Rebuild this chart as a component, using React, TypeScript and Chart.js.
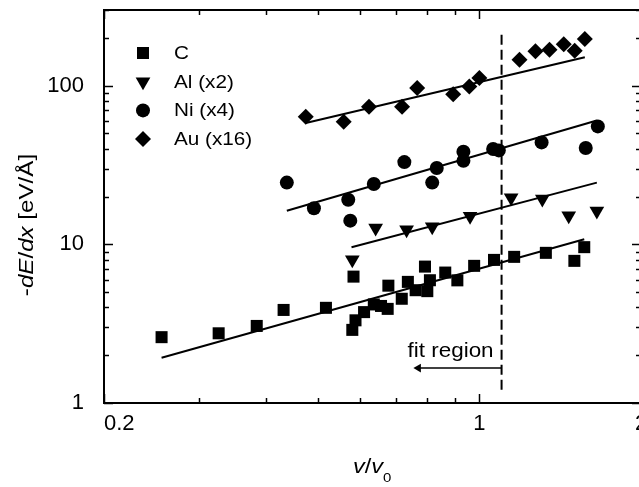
import React, { useEffect, useRef } from 'react';
import { Chart, registerables } from 'chart.js';

Chart.register(...registerables);

const FONT = '"Liberation Sans", Arial, Helvetica, sans-serif';

// ---- data (v/v0 , -dE/dx) ----
const seriesLabels = ['C', 'Al (x2)', 'Ni (x4)', 'Au (x16)'];

const cVel = [0.256, 0.327, 0.385, 0.432, 0.518, 0.58, 0.583, 0.588, 0.61, 0.636, 0.656, 0.675, 0.677, 0.717, 0.736, 0.761, 0.792, 0.8, 0.809, 0.864, 0.91, 0.978, 1.065, 1.161, 1.33, 1.503, 1.568];
const cLoss = [2.6, 2.75, 3.06, 3.86, 3.98, 2.89, 6.26, 3.32, 3.74, 4.18, 4.09, 3.92, 5.49, 4.54, 5.8, 5.14, 7.24, 5.07, 5.94, 6.64, 5.93, 7.32, 7.98, 8.34, 8.84, 7.87, 9.6];

const alVel = [0.58, 0.641, 0.732, 0.817, 0.961, 1.146, 1.31, 1.467, 1.655];
const alLoss = [8.0, 12.7, 12.35, 12.9, 15.06, 19.65, 19.29, 15.17, 16.2];

const niVel = [0.438, 0.492, 0.57, 0.575, 0.636, 0.725, 0.817, 0.833, 0.934, 0.934, 1.061, 1.087, 1.306, 1.578, 1.662];
const niLoss = [24.5, 16.9, 19.1, 14.1, 24.0, 33.0, 24.5, 30.3, 38.3, 33.6, 39.9, 39.1, 43.9, 40.5, 55.4];

const auVel = [0.475, 0.559, 0.623, 0.718, 0.766, 0.894, 0.958, 1.0, 1.188, 1.272, 1.351, 1.436, 1.505, 1.572];
const auLoss = [63.7, 59.3, 73.7, 73.7, 96.7, 88.4, 99.0, 111.9, 145.9, 165.1, 168.7, 182.7, 166.3, 197.0];

// power-law fit lines (end points)
const cFitVel = [0.256, 1.568];
const cFitLoss = [1.93, 10.78];
const alFitVel = [0.578, 1.655];
const alFitLoss = [9.6, 24.5];
const niFitVel = [0.438, 1.655];
const niFitLoss = [16.3, 60.4];
const auFitVel = [0.475, 1.572];
const auFitLoss = [58.2, 150.9];

// fit-region marker
const fitLimitVel = [1.1, 1.1];
const fitLimitLoss = [1.21, 225];
const arrowVel = [1.1, 0.77];
const arrowLoss = [1.66, 1.66];

// axes
const xTickValues = [0.2, 0.3, 0.4, 0.5, 0.6, 0.7, 0.8, 0.9, 1, 2];
const xTickLabels: [number, string][] = [[0.2, '     0.2'], [1, '1'], [2, '2']];
const yTickValues = [1, 2, 3, 4, 5, 6, 7, 8, 9, 10, 20, 30, 40, 50, 60, 70, 80, 90, 100, 200, 300];
const yTickLabels: [number, string][] = [[1, '1'], [10, '10'], [100, '100']];

const findLabel = (list: [number, string][], v: number) => {
  const hit = list.find(([k]) => Math.abs(v - k) / k < 1e-6);
  return hit ? hit[1] : null;
};

const pts = (xs: number[], ys: number[]) => xs.map((x, i) => ({ x, y: ys[i] }));

const markerSet = (label: string, xs: number[], ys: number[], style: string, r: number, rot = 0) => ({
  label,
  data: pts(xs, ys),
  showLine: false,
  pointStyle: style,
  pointRadius: r,
  pointHoverRadius: r,
  pointRotation: rot,
  pointBackgroundColor: '#000',
  pointBorderColor: '#000',
  pointBorderWidth: 0,
  backgroundColor: '#000',
  borderColor: '#000',
  isMarker: true,
});

const lineSet = (xs: number[], ys: number[], extra: any = {}) => ({
  label: '',
  data: pts(xs, ys),
  showLine: true,
  pointRadius: 0,
  borderColor: '#000',
  borderWidth: 2,
  backgroundColor: '#000',
  fill: false,
  tension: 0,
  ...extra,
});

type Part = { t: string; it?: boolean; size?: number; dy?: number };

function drawParts(ctx: CanvasRenderingContext2D, parts: Part[], x: number, y: number, size: number, sx: number, align: 'left' | 'center' | 'right') {
  const fontOf = (p: Part) => `${p.it ? 'italic ' : ''}${p.size ?? size}px ${FONT}`;
  const widths = parts.map((p) => {
    ctx.font = fontOf(p);
    return ctx.measureText(p.t).width * sx;
  });
  const total = widths.reduce((a, b) => a + b, 0);
  let cx = align === 'left' ? x : align === 'center' ? x - total / 2 : x - total;
  parts.forEach((p, i) => {
    ctx.save();
    ctx.font = fontOf(p);
    ctx.translate(cx, y + (p.dy ?? 0));
    ctx.scale(sx, 1);
    ctx.textAlign = 'left';
    ctx.fillText(p.t, 0, 0);
    ctx.restore();
    cx += widths[i];
  });
}

function drawMarker(ctx: CanvasRenderingContext2D, style: string, x: number, y: number, r: number, rotDeg: number) {
  ctx.beginPath();
  if (style === 'circle') {
    ctx.arc(x, y, r, 0, Math.PI * 2);
  } else if (style === 'rect') {
    const s = r * Math.SQRT1_2;
    ctx.rect(x - s, y - s, 2 * s, 2 * s);
  } else if (style === 'rectRot') {
    ctx.moveTo(x, y - r);
    ctx.lineTo(x + r, y);
    ctx.lineTo(x, y + r);
    ctx.lineTo(x - r, y);
    ctx.closePath();
  } else if (style === 'triangle') {
    let rad = (rotDeg * Math.PI) / 180;
    for (let k = 0; k < 3; k++) {
      const px = x + Math.sin(rad) * r;
      const py = y - Math.cos(rad) * r;
      if (k === 0) ctx.moveTo(px, py);
      else ctx.lineTo(px, py);
      rad += (2 * Math.PI) / 3;
    }
    ctx.closePath();
  }
  ctx.fill();
}

const decorPlugin = {
  id: 'decor',
  afterDatasetsDraw(chart: any) {
    const { ctx, chartArea: a, scales } = chart;
    const xs = scales.x;
    const ys = scales.y;
    ctx.save();
    ctx.strokeStyle = '#000';
    ctx.fillStyle = '#000';

    // frame
    ctx.lineWidth = 2;
    ctx.strokeRect(a.left, a.top, a.right - a.left, a.bottom - a.top);

    // inward ticks
    ctx.lineWidth = 1.5;
    const seg = (x1: number, y1: number, x2: number, y2: number) => {
      ctx.beginPath();
      ctx.moveTo(x1, y1);
      ctx.lineTo(x2, y2);
      ctx.stroke();
    };
    xTickValues.forEach((v) => {
      const px = Math.round(xs.getPixelForValue(v)) + 0.5;
      const len = findLabel(xTickLabels, v) ? 9 : 5;
      seg(px, a.bottom, px, a.bottom - len);
      seg(px, a.top, px, a.top + len);
    });
    yTickValues.forEach((v) => {
      const py = Math.round(ys.getPixelForValue(v)) + 0.5;
      const len = findLabel(yTickLabels, v) ? 9 : 5;
      seg(a.left, py, a.left + len, py);
      seg(a.right, py, a.right - len, py);
    });

    // legend
    const markers = chart.data.datasets.filter((d: any) => d.isMarker);
    markers.forEach((d: any, i: number) => {
      const cy = a.top + 43 + i * 28.7;
      drawMarker(ctx, d.pointStyle, a.left + 39, cy, d.pointRadius, d.pointRotation || 0);
      ctx.textBaseline = 'middle';
      drawParts(ctx, [{ t: d.label }], a.left + 70, cy + 1, 18, 1.15, 'left');
    });

    // fit region label
    ctx.textBaseline = 'alphabetic';
    const fx = xs.getPixelForValue(fitLimitVel[0]);
    const fy = ys.getPixelForValue(arrowLoss[0]);
    drawParts(ctx, [{ t: 'fit region' }], fx - 8, fy - 11, 19.5, 1.15, 'right');

    // x title
    drawParts(
      ctx,
      [{ t: 'v', it: true }, { t: '/' }, { t: 'v', it: true }, { t: '0', size: 13, dy: 9 }],
      353,
      473,
      20.5,
      1.15,
      'left'
    );

    // y title
    ctx.save();
    ctx.translate(33, 225);
    ctx.rotate(-Math.PI / 2);
    drawParts(
      ctx,
      [{ t: '-' }, { t: 'dE', it: true }, { t: '/' }, { t: 'dx', it: true }, { t: ' [eV/Å]' }],
      0,
      0,
      21,
      1.15,
      'center'
    );
    ctx.restore();

    ctx.restore();
  },
};

export default function App() {
  const ref = useRef<HTMLCanvasElement>(null);

  useEffect(() => {
    if (!ref.current) return;
    const datasets: any[] = [
      markerSet(seriesLabels[0], cVel, cLoss, 'rect', 8.5),
      markerSet(seriesLabels[1], alVel, alLoss, 'triangle', 8.5, 180),
      markerSet(seriesLabels[2], niVel, niLoss, 'circle', 7),
      markerSet(seriesLabels[3], auVel, auLoss, 'rectRot', 8),
      lineSet(cFitVel, cFitLoss),
      lineSet(alFitVel, alFitLoss),
      lineSet(niFitVel, niFitLoss),
      lineSet(auFitVel, auFitLoss),
      lineSet(fitLimitVel, fitLimitLoss, { borderDash: [10, 5], borderWidth: 2 }),
      lineSet(arrowVel, arrowLoss, {
        borderWidth: 1.5,
        pointRadius: [0, 5],
        pointStyle: 'triangle',
        pointRotation: 270,
        pointBackgroundColor: '#000',
        pointBorderWidth: 0,
      }),
    ];

    const chart = new Chart(ref.current, {
      type: 'scatter',
      data: { datasets },
      plugins: [decorPlugin],
      options: {
        animation: false,
        responsive: true,
        maintainAspectRatio: false,
        events: [],
        layout: { padding: { left: 0, top: 10, right: 39, bottom: 0 } },
        plugins: { legend: { display: false }, tooltip: { enabled: false } },
        scales: {
          x: {
            type: 'logarithmic',
            position: 'bottom',
            min: 0.2,
            max: 2,
            grid: { display: false },
            border: { display: false },
            afterBuildTicks: (s: any) => {
              s.ticks = xTickValues.map((v) => ({ value: v }));
            },
            afterFit: (s: any) => {
              s.height = 84;
              s.paddingLeft = 0;
              s.paddingRight = 0;
              s.paddingTop = 0;
              s.paddingBottom = 0;
            },
            ticks: {
              autoSkip: false,
              maxRotation: 0,
              padding: 0,
              color: '#000',
              font: { family: FONT, size: 22 },
              callback: (v: any) => findLabel(xTickLabels, Number(v)),
            },
          },
          y: {
            type: 'logarithmic',
            position: 'left',
            min: 1,
            max: 300,
            grid: { display: false },
            border: { display: false },
            afterBuildTicks: (s: any) => {
              s.ticks = yTickValues.map((v) => ({ value: v }));
            },
            afterFit: (s: any) => {
              s.width = 104;
              s.paddingLeft = 0;
              s.paddingRight = 0;
              s.paddingTop = 0;
              s.paddingBottom = 0;
            },
            ticks: {
              autoSkip: false,
              padding: 12,
              color: '#000',
              font: { family: FONT, size: 22 },
              callback: (v: any) => findLabel(yTickLabels, Number(v)),
            },
          },
        },
      } as any,
    });
    return () => chart.destroy();
  }, []);

  return (
    <div style={{ position: 'fixed', left: 0, top: 0, width: 680, height: 487, background: '#fff' }}>
      <canvas ref={ref} />
    </div>
  );
}
